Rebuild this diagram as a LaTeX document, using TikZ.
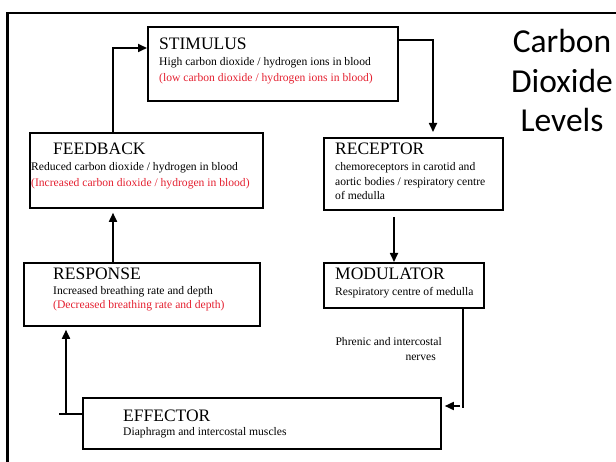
\documentclass[tikz,border=0pt]{standalone}
\usepackage{fontspec}
\setmainfont{Liberation Serif}
\newfontfamily\headingsans{Carlito}
\usetikzlibrary{arrows.meta}
\definecolor{altred}{RGB}{228,32,48}
\begin{document}
\begin{tikzpicture}[x=1pt,y=-1pt,
  stagebox/.style={draw, line width=1.8pt, rectangle, inner sep=0pt, anchor=north west},
  head/.style={anchor=base west, inner sep=0pt, font=\fontsize{17.5}{20}\selectfont},
  body/.style={anchor=base west, inner sep=0pt, font=\fontsize{11.6}{14}\selectfont},
  alt/.style={body, text=altred},
  note/.style={anchor=base east, inner sep=0pt, font=\fontsize{11.6}{14}\selectfont},
  link/.style={line width=1.7pt},
  flow/.style={link, -{Triangle[length=9pt,width=8pt]}},
  bigtitle/.style={anchor=base, inner sep=0pt, font=\headingsans\fontsize{33.5}{40}\selectfont}]

\useasboundingbox (0,0) rectangle (616,462);
\clip (0,0) rectangle (616,462);

% page frame (only its left and top edges fall inside the page)
\draw[line width=2.3pt] (7.5,12.7) rectangle (640,480);

% title
\node[bigtitle] (t1) at (562,53)  {Carbon};
\node[bigtitle] (t2) at (562,93)  {Dioxide};
\node[bigtitle] (t3) at (562,132) {Levels};

% stage boxes
\node[stagebox, minimum width=250pt, minimum height=74pt] (stim) at (147,26)  {};
\node[stagebox, minimum width=233pt, minimum height=75pt] (fb)   at (29,132)  {};
\node[stagebox, minimum width=179pt, minimum height=72pt] (rec)  at (323,137) {};
\node[stagebox, minimum width=236pt, minimum height=63pt] (resp) at (23,262)  {};
\node[stagebox, minimum width=160pt, minimum height=45pt] (mod)  at (323,262) {};
\node[stagebox, minimum width=358pt, minimum height=51pt] (eff)  at (82,397)  {};

% stimulus
\node[head] (stimH)  at (159,50) {STIMULUS};
\node[body] (stimL1) at (159,66) {High carbon dioxide / hydrogen ions in blood};
\node[alt]  (stimL2) at (159,82) {(low carbon dioxide / hydrogen ions in blood)};

% receptor
\node[head] (recH)  at (335,155) {RECEPTOR};
\node[body] (recL1) at (335,171) {chemoreceptors in carotid and};
\node[body] (recL2) at (335,186) {aortic bodies / respiratory centre};
\node[body] (recL3) at (335,200) {of medulla};

% feedback
\node[head] (fbH)  at (53,155) {FEEDBACK};
\node[body] (fbL1) at (31,171) {Reduced carbon dioxide / hydrogen in blood};
\node[alt]  (fbL2) at (31,187) {(Increased carbon dioxide / hydrogen in blood)};

% response
\node[head] (respH)  at (53,280) {RESPONSE};
\node[body] (respL1) at (53,295) {Increased breathing rate and depth};
\node[alt]  (respL2) at (53,309) {(Decreased breathing rate and depth)};

% modulator
\node[head] (modH)  at (335,280) {MODULATOR};
\node[body] (modL1) at (335,296) {Respiratory centre of medulla};

% effector
\node[head] (effH)  at (123,421) {EFFECTOR};
\node[body] (effL1) at (123,435) {Diaphragm and intercostal muscles};

% pathway label
\node[note] (nv1) at (442,345) {Phrenic and intercostal};
\node[note] (nv2) at (436,361) {nerves};

% bend points of the connectors
\coordinate (cR) at (433,40);
\coordinate (cF) at (113,48);
\coordinate (cM) at (394,0);
\coordinate (cN) at (463,408);
\coordinate (cA) at (460,406);
\coordinate (cS) at (59,414);
\coordinate (cE) at (66,414);

% connectors
\draw[flow, shorten >=5pt] (stim.east |- cR) -| (rec.north -| cR);
\draw[flow, shorten <=6pt] (rec.south -| cM) -- (mod.north -| cM);
\draw[link] (mod.south -| cN) -- (cN);
\draw[flow, shorten >=3pt] (cA) -- (eff.east |- cA);
\draw[link] (cS) -- (eff.west |- cS);
\draw[flow, shorten >=3pt] (cE) -- (resp.south -| cE);
\draw[flow, shorten >=4pt] (resp.north -| cF) -- (fb.south -| cF);
\draw[flow] (fb.north -| cF) |- (stim.west |- cF);
\end{tikzpicture}
\end{document}
